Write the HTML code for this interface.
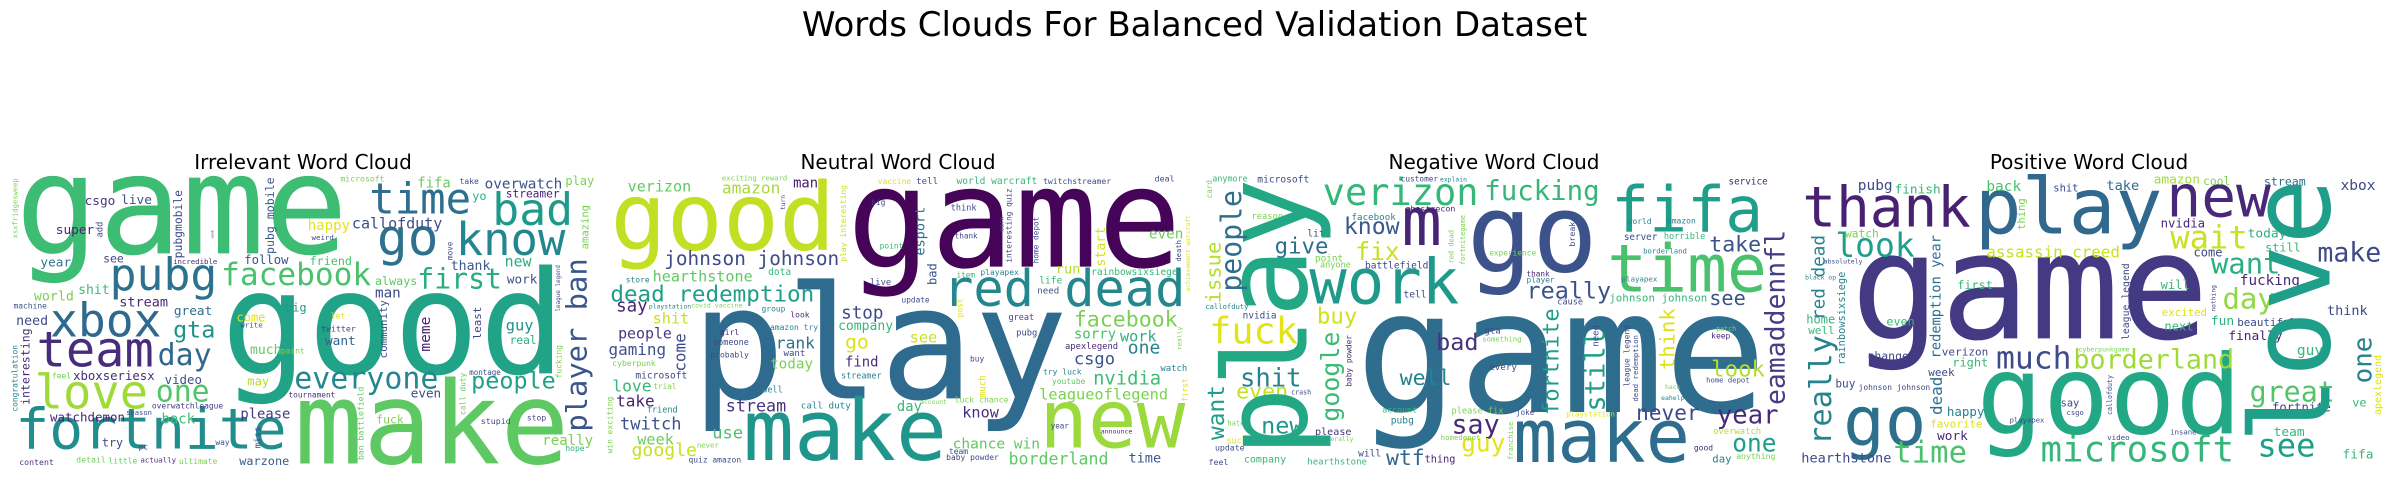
<!DOCTYPE html>
<html><head><meta charset="utf-8"><title>Words Clouds For Balanced Validation Dataset</title>
<style>
html,body{margin:0;padding:0;background:#fff;}
body{width:2389px;height:477px;position:relative;overflow:hidden;font-family:"DejaVu Sans","Liberation Sans",sans-serif;}
.cloud{position:absolute;top:90px;height:387px;}
.sub{position:absolute;top:150px;font-size:20px;color:#000;text-align:center;width:400px;white-space:nowrap;}
#title{position:absolute;left:0;width:2389px;top:8px;line-height:34px;text-align:center;font-size:34px;color:#000;}
text{font-family:"DejaVu Sans Mono","Liberation Mono",monospace;}
</style></head>
<body>
<div id="title">Words Clouds For Balanced Validation Dataset</div>
<div class="sub" style="left:103px">Irrelevant Word Cloud</div>
<div class="sub" style="left:698px">Neutral Word Cloud</div>
<div class="sub" style="left:1294px">Negative Word Cloud</div>
<div class="sub" style="left:1889px">Positive Word Cloud</div>
<svg id="c1" class="cloud" style="left:0;width:600px" viewBox="0 0 1560 1161" preserveAspectRatio="none"></svg>
<svg id="c2" class="cloud" style="left:595px;width:600px" viewBox="0 0 1560 1161" preserveAspectRatio="none"></svg>
<svg id="c3" class="cloud" style="left:1190px;width:600px" viewBox="0 0 1560 1161" preserveAspectRatio="none"></svg>
<svg id="c4" class="cloud" style="left:1785px;width:604px" viewBox="0 0 1560 1161" preserveAspectRatio="none"></svg>
<script>
const irrelevantWords=[
['game',40,905,490,'#3dbc74'],['good',575,1470,850,'#20a386'],['make',765,1480,1120,'#5ec962'],
['fortnite',40,745,1075,'#228d8d'],['pubg',285,565,600,'#2c728e'],['xbox',130,420,740,'#30698e'],
['team',95,400,830,'#472d7b'],['love',90,385,955,'#a0da39'],['facebook',575,965,585,'#4ac16d'],
['time',960,1225,370,'#2e6e8e'],['bad',1280,1490,405,'#1f9a8a'],['go',980,1140,495,'#2c728e'],
['know',1185,1470,495,'#24868e'],['first',1085,1305,595,'#27ad81'],['everyone',765,1140,895,'#24868e'],
['people',1225,1445,895,'#1fa187'],['day',410,550,825,'#31668e'],['one',405,545,935,'#52c569'],
['gta',450,560,742,'#20928c'],['callofduty',915,1150,415,'#3e4c8a'],['overwatch',1260,1462,295,'#3b528b'],
['fifa',1085,1172,292,'#6ccd5a'],['happy',800,910,420,'#e4e419'],['csgo',220,300,345,'#453781'],
['live',315,395,342,'#3b528b'],['super',145,245,432,'#482173'],['year',105,185,530,'#2a788e'],
['world',88,192,632,'#7ad151'],['shit',203,285,612,'#3bbb75'],['stream',310,437,650,'#482677'],
['need',42,125,705,'#3e4a89'],['great',452,552,675,'#2e6f8e'],['follow',635,750,522,'#39558c'],
['friend',805,915,525,'#48c16e'],['always',975,1085,585,'#5ec962'],['man',975,1042,622,'#3e4989'],
['thank',1172,1275,540,'#38598c'],['new',1312,1382,530,'#29af7f'],['work',1318,1397,580,'#3b528b'],
['guy',1315,1387,722,'#20928c'],['real',1325,1395,762,'#2ab07f'],['want',845,925,765,'#33638d'],
['much',650,732,792,'#62cb5f'],['twitter',835,925,725,'#3f4889'],['come',615,690,695,'#dde318'],
['big',742,797,665,'#1f988b'],['video',428,525,882,'#3b528b'],['xboxseriesx',190,402,870,'#472c7a'],
['watchdemon',130,325,995,'#482475'],['back',420,507,1000,'#3dbc74'],['please',625,755,985,'#443a83'],
['fuck',978,1050,1000,'#81d34d'],['stupid',1250,1328,1002,'#3e4989'],['stop',1370,1420,992,'#404588'],
['really',1410,1542,1065,'#7ad151'],['warzone',622,752,1125,'#355f8d'],['tournament',750,872,922,'#453781'],
['even',1068,1147,922,'#3e4989'],['may',643,700,887,'#b8de29'],['try',265,320,1070,'#3e4989'],
['content',50,140,1125,'#443a83'],['detail',198,275,1118,'#6ccd5a'],['little',282,357,1120,'#5ec962'],
['actually',365,458,1118,'#482878'],['ultimate',465,565,1122,'#7ad151'],['overwatchleague',395,580,955,'#443a83'],
['feel',135,185,865,'#6ccd5a'],['microsoft',885,1000,275,'#7ad151'],['take',1195,1245,282,'#3e4989'],
['play',1470,1545,285,'#7ad151'],['streamer',1315,1455,322,'#482475'],['yo',1228,1265,330,'#2ab07f'],
['weird',810,868,450,'#3e4989'],['incredible',450,565,522,'#482878'],['see',268,322,518,'#3e4989'],
['machine',35,122,655,'#3b528b'],['let',860,898,685,'#dde318'],['write',625,683,712,'#3b528b'],
['paint',730,792,790,'#7ad151'],['montage',1220,1302,855,'#3e4989'],['hope',1470,1520,1083,'#2ab07f'],
['pc',360,385,1078,'#3e4989'],['way',560,597,1065,'#3b528b'],['season',328,395,975,'#3e4989'],
['player ban',1470,1025,505,'#3a548c',1],['interesting',55,945,715,'#472c7a',1],
['congratulation',30,965,765,'#26828e',1],['meme',1090,785,680,'#481f70',1],
['community',985,805,630,'#3b528b',1],['least',1230,748,650,'#414487',1],
['pubg mobile',690,492,262,'#38598c',1],['pubgmobile',452,505,300,'#3e4a89',1],
['amazing',1510,478,345,'#7ad151',1],['add',250,442,395,'#443983',1],
['xsxfridgesweep',32,445,265,'#7ad151',1],['fucking',1445,865,765,'#7ad151',1],
['league legend',1445,665,525,'#3e4989',1],['ban battlefield',930,1110,890,'#5ec962',1],
['call duty',1195,975,848,'#6ccd5a',1],['miss',660,1075,1010,'#3e4989',1],
['week',548,445,420,'#3e4989',1],['move',1162,510,455,'#3e4989',1]
];
const neutralWords=[
['game',655,1525,530,'#450457'],['play',250,1230,925,'#2f6b8e'],['good',40,625,478,'#c2df23'],
['make',385,915,1110,'#1f968b'],['new',1155,1535,1072,'#9bd93c'],['red dead',905,1535,648,'#24878e'],
['dead redemption',40,570,635,'#1f9e89'],['johnson johnson',180,635,525,'#3e4a89'],['facebook',1245,1515,710,'#7ad151'],
['hearthstone',150,410,575,'#5ec962'],['verizon',85,250,305,'#5ec962'],['amazon',330,482,310,'#a5db36'],
['man',515,580,293,'#481a6c'],['stop',640,750,685,'#3e4a89'],['company',632,775,720,'#35b779'],
['rank',470,572,775,'#2c728e'],['go',650,712,775,'#dde318'],['see',818,890,757,'#cae11f'],
['csgo',1245,1352,823,'#3b528b'],['one',1385,1470,790,'#26828e'],['nvidia',1295,1472,883,'#3dbc74'],
['leagueoflegend',1155,1490,928,'#7ad151'],['borderland',1075,1335,1123,'#5ec962'],['time',1387,1472,1118,'#39568c'],
['chance win',930,1157,1075,'#5ec962'],['know',955,1050,983,'#472d7b'],['stream',340,497,965,'#46337e'],
['twitch',65,225,1018,'#3b528b'],['google',95,265,1098,'#c8e020'],['use',305,385,1045,'#4ac16d'],
['week',110,205,1063,'#6ccd5a'],['people',60,200,745,'#453882'],['gaming',35,185,795,'#3b528b'],
['love',45,147,905,'#35b779'],['take',55,155,950,'#482173'],['shit',150,245,700,'#c8e020'],
['say',55,137,665,'#482475'],['today',455,567,835,'#7ad151'],['find',650,737,830,'#472c7a'],
['day',785,850,963,'#35b779'],['sorry',1245,1355,745,'#4ac16d'],['work',1365,1460,755,'#2ab07f'],
['even',1440,1530,445,'#6ece58'],['run',1198,1262,550,'#b5de2b'],['life',1155,1215,580,'#35b779'],
['need',1150,1207,610,'#3b528b'],['rainbowsixsiege',1290,1515,555,'#35b779'],['world warcraft',940,1150,282,'#35b779'],
['twitchstreamer',1165,1342,282,'#3e4a89'],['tell',835,892,282,'#3e4a89'],['deal',1455,1507,275,'#3e4989'],
['exciting reward',330,500,272,'#7ad151'],['vaccine',735,822,282,'#dde318'],['dota',450,510,555,'#35b779'],
['microsoft',105,240,865,'#3e4989'],['big',718,755,345,'#3e4989'],['think',925,992,362,'#3e4989'],
['thank',935,995,446,'#3e4989'],['point',740,802,475,'#35b779'],['playapex',1002,1102,555,'#26828e'],
['item',940,988,562,'#35b779'],['live',715,770,585,'#3e4989'],['update',797,870,637,'#3e4989'],
['great',1075,1142,690,'#3e4989'],['pubg',1095,1150,737,'#3e4989'],['apexlegend',1222,1360,777,'#482878'],
['buy',975,1012,815,'#3e4989'],['try luck',1165,1265,853,'#26828e'],['watch',1470,1540,843,'#26828e'],
['youtube',1188,1275,882,'#5ec962'],['streamer',640,745,865,'#26828e'],['want',490,547,798,'#3e4989'],
['probably',300,400,802,'#3e4989'],['someone',307,400,765,'#3e4989'],['girl',325,375,735,'#482878'],
['call duty',535,665,955,'#26828e'],['cyberpunk',45,158,828,'#7ad151'],['trial',152,212,897,'#7ad151'],
['friend',135,215,968,'#26828e'],['store',80,142,577,'#26828e'],['quiz amazon',243,380,1118,'#3e4989'],
['baby powder',913,1050,1110,'#3e4989'],['group',433,495,665,'#26828e'],['look',508,558,683,'#482878'],
['amazon try',455,580,720,'#26828e'],['playstation',140,250,655,'#26828e'],['covid vaccine',250,383,652,'#7ad151'],
['well',435,488,907,'#26828e'],['account',845,915,942,'#7ad151'],['luck chance',935,1075,937,'#7ad151'],
['year',1185,1232,1015,'#3e4989'],['team',920,970,1092,'#3e4989'],['announce',1315,1397,1030,'#482878'],
['never',265,322,1072,'#7ad151'],
['bad',865,585,520,'#3a548c',1],['esport',830,497,350,'#2d708e',1],['start',1300,530,410,'#d2e21b',1],
['come',205,845,730,'#3e4989',1],['play interesting',637,515,285,'#cae11f',1],['interesting quiz',1068,518,295,'#3e4989',1],
['home depot',1138,520,380,'#3e4989',1],['death',1510,515,450,'#3e4989',1],['achievement warcraft',1535,605,375,'#dde318',1],
['win exciting',30,1090,920,'#7ad151',1],['turn',482,360,315,'#3e4989',1],['much',998,922,855,'#dde318',1],
['first',1525,935,865,'#dde318',1],['post',940,682,625,'#dde318',1],['earn',1050,425,380,'#3e4989',1],
['really',1512,780,710,'#7ad151',1]
];
const negativeWords=[
['game',430,1500,966,'#2e6d8e'],['make',840,1300,1116,'#2e6d8e'],['go',720,1060,545,'#3b528b'],
['fifa',1095,1490,425,'#1f9e89'],['time',1085,1500,605,'#4ac16d'],['work',310,700,640,'#1f9a8a'],
['verizon',345,750,345,'#35b779'],['fucking',765,1065,330,'#35b779'],['m',550,655,465,'#482475'],
['know',400,545,432,'#38598c'],['give',220,360,490,'#2e6f8e'],['fix',430,545,510,'#c8e020'],
['fuck',50,280,760,'#e2e418'],['buy',330,435,700,'#d0e11c'],['bad',640,750,780,'#46337e'],
['shit',130,290,890,'#26828e'],['even',120,255,925,'#c5e021'],['new',185,295,1030,'#1f968b'],
['well',545,680,885,'#26828e'],['say',680,805,1030,'#482878'],['wtf',510,610,1125,'#31668e'],
['guy',705,820,1085,'#e2e418'],['really',875,1095,625,'#3b528b'],['see',1350,1445,645,'#3b528b'],
['look',1355,1495,860,'#b5de2b'],['never',1160,1325,990,'#3e4989'],['year',1370,1530,1000,'#482878'],
['one',1410,1525,1085,'#1f9e89'],['take',1350,1485,485,'#3b528b'],['johnson johnson',1090,1345,635,'#35b779'],
['battlefield',455,620,535,'#3e4989'],['facebook',420,535,390,'#26828e'],['ghostrecon',560,690,365,'#482475'],
['microsoft',175,310,278,'#3e4989'],['anymore',58,150,275,'#35b779'],['customer',548,645,275,'#3e4989'],
['explain',650,720,275,'#26828e'],['service',1400,1502,283,'#482878'],['please',325,420,1035,'#46337e'],
['hearthstone',305,460,1123,'#35b779'],['company',140,250,1117,'#35b779'],['update',65,142,1082,'#3e4989'],
['feel',48,100,1125,'#3e4989'],['thing',610,690,1117,'#482878'],['will',437,497,1100,'#3e4989'],
['account',500,590,968,'#35b779'],['pubg',522,582,1000,'#26828e'],['please fix',680,815,970,'#7ad151'],
['joke',848,895,975,'#3e4989'],['playstation',978,1105,980,'#dde318'],['overwatch',1360,1485,1032,'#b5de2b'],
['good',1310,1360,1082,'#482878'],['day',1358,1408,1117,'#26828e'],['anything',1420,1522,1107,'#7ad151'],
['every',778,850,840,'#3e4989'],['gta',765,808,730,'#3e4989'],['something',760,862,755,'#7ad151'],
['tell',555,615,622,'#3e4989'],['nvidia',137,225,685,'#3e4989'],['callofduty',40,152,657,'#26828e'],
['reason',160,242,387,'#7ad151'],['life',305,365,440,'#3e4989'],['point',325,398,515,'#7ad151'],
['anyone',338,418,533,'#7ad151'],['server',1128,1215,450,'#3e4989'],['horrible',1232,1340,447,'#35b779'],
['borderland',1178,1292,490,'#26828e'],['experience',778,900,497,'#7ad151'],['world',1138,1200,402,'#26828e'],
['amazon',1240,1315,400,'#26828e'],['playapex',1122,1215,575,'#26828e'],['thank',875,935,560,'#482475'],
['player',875,948,578,'#26828e'],['cause',955,1022,643,'#3e4989'],['hate',97,142,1007,'#7ad151'],
['suck',95,148,1060,'#dde318'],['review',205,268,1055,'#482878'],['literally',335,425,1053,'#7ad151'],
['homedepot',652,755,1050,'#7ad151'],['crash',263,315,913,'#3e4989'],['keep',1355,1405,745,'#482878'],
['patch',1368,1420,723,'#7ad151'],['home depot',1342,1455,878,'#3e4989'],['hack',1235,1275,897,'#7ad151'],
['eahelp',1225,1285,930,'#26828e'],
['play',80,1100,265,'#22a884',1],['eamaddennfl',1495,945,420,'#433e85',1],['fortnite',915,975,655,'#1f9e89',1],
['still',1025,965,720,'#1f9e89',1],['think',1220,840,655,'#dde318',1],['google',340,995,725,'#3bbb75',1],
['want',45,1050,885,'#1f9e89',1],['issue',40,640,455,'#b5de2b',1],['people',78,605,300,'#2e6f8e',1],
['baby powder',405,890,735,'#482878',1],['league legend',1128,890,705,'#3e4989',1],['dead redemption',1150,935,735,'#3e4989',1],
['need',1045,770,705,'#3e4989',1],['break',985,470,395,'#3e4989',1],['fortnitegame',702,525,375,'#7ad151',1],
['red dead',672,520,420,'#7ad151',1],['franchise',826,1110,995,'#7ad151',1],['card',42,325,270,'#7ad151',1]
];
const positiveWords=[
['game',170,1095,745,'#443983'],['good',495,1180,1030,'#22a884'],['play',490,975,430,'#31688e'],
['thank',45,480,410,'#482173'],['new',985,1255,380,'#482878'],['look',130,335,500,'#1f9e89'],
['go',150,365,1065,'#2d708e'],['much',545,740,835,'#3e4a89'],['borderland',745,1160,835,'#a0da39'],
['microsoft',660,1160,1115,'#35b779'],['time',280,470,1118,'#4ac16d'],['see',1220,1370,1100,'#1f9e89'],
['great',1200,1420,935,'#52c569'],['wait',995,1195,475,'#cae11f'],['want',1100,1280,550,'#2ab07f'],
['day',1130,1265,655,'#8fd744'],['make',1375,1540,515,'#3e4989'],['assassin creed',520,865,503,'#cae11f'],
['back',520,610,303,'#4ac16d'],['finish',283,402,310,'#35b779'],['pubg',188,278,300,'#3e4989'],
['shit',693,758,305,'#3e4989'],['take',830,915,300,'#2e6f8e'],['amazon',952,1072,280,'#a5db36'],
['cool',1080,1150,285,'#7ad151'],['stream',1237,1345,287,'#2e6f8e'],['xbox',1435,1525,300,'#3e4989'],
['nvidia',970,1085,413,'#482878'],['today',1195,1295,442,'#2ab07f'],['still',1240,1332,485,'#35b779'],
['come',1055,1130,500,'#3e4989'],['fucking',1175,1330,585,'#482878'],['think',1400,1505,675,'#3e4989'],
['beautiful',1168,1320,708,'#3e4989'],['finally',1145,1285,750,'#482475'],['fun',1100,1160,705,'#2ab07f'],
['excited',973,1090,678,'#dde318'],['next',980,1055,722,'#35b779'],['will',970,1045,597,'#35b779'],
['first',445,537,597,'#35b779'],['even',262,335,707,'#35b779'],['change',213,320,810,'#3e4989'],
['verizon',405,525,797,'#3e4989'],['right',432,525,830,'#35b779'],['week',370,438,858,'#3e4989'],
['happy',418,515,978,'#26828e'],['favorite',375,510,1012,'#dde318'],['work',393,472,1050,'#482878'],
['buy',130,182,892,'#3e4989'],['johnson johnson',190,375,900,'#3e4989'],['home',55,130,700,'#35b779'],
['well',60,128,732,'#35b779'],['watch',155,242,442,'#7ad151'],['hearthstone',42,275,1118,'#3e4989'],
['guy',1322,1390,795,'#35b779'],['fortnite',1258,1410,965,'#3e4989'],['team',1262,1342,1038,'#35b779'],
['fifa',1440,1520,1105,'#35b779'],['ve',1465,1502,950,'#35b779'],['say',712,760,950,'#3e4989'],
['csgo',727,772,975,'#3e4989'],['playapex',580,670,998,'#3e4989'],['video',832,890,1050,'#3e4989'],
['insane',995,1063,1033,'#3e4989'],['cyberpunkgame',758,890,785,'#7ad151'],['black op',52,132,568,'#26828e'],
['absolutely',100,200,520,'#3e4989'],
['love',1195,1060,265,'#1f9e89',1],['really',60,1065,735,'#26828e',1],['red dead',68,690,435,'#26828e',1],
['rainbowsixsiege',135,825,545,'#26828e',1],['redemption year',375,805,435,'#2e6f8e',1],['dead',375,975,860,'#2e6f8e',1],
['league legend',870,750,520,'#3e4989',1],['one',1465,880,740,'#26828e',1],['apexlegend',1520,975,795,'#dde318',1],
['thing',600,420,325,'#7ad151',1],['nothing',1100,665,585,'#3e4989',1],['callofduty',832,975,855,'#3e4989',1]
];
const NS='http://www.w3.org/2000/svg';
function drawCloud(id, words){
  const svg=document.getElementById(id);
  words.forEach(function(w){
    const t=document.createElementNS(NS,'text');
    const n=w[0].length;
    if(w[5]){
      const L=w[2]-w[3];
      const s=1.44*L/n;
      const xb=w[1]+0.74*s;
      t.setAttribute('x',xb);
      t.setAttribute('y',w[2]);
      t.setAttribute('transform','rotate(-90 '+xb+' '+w[2]+')');
      t.setAttribute('font-size',s);
      t.setAttribute('textLength',L);
    } else {
      const W=w[2]-w[1];
      const s=1.92*W/n;
      t.setAttribute('x',w[1]);
      t.setAttribute('y',w[3]);
      t.setAttribute('font-size',s);
      t.setAttribute('textLength',W);
    }
    t.setAttribute('lengthAdjust','spacingAndGlyphs');
    t.setAttribute('fill',w[4]);
    t.textContent=w[0];
    
    
    svg.appendChild(t);
  });
}
drawCloud('c1',irrelevantWords);
drawCloud('c2',neutralWords);
drawCloud('c3',negativeWords);
drawCloud('c4',positiveWords);
</script>
</body></html>
